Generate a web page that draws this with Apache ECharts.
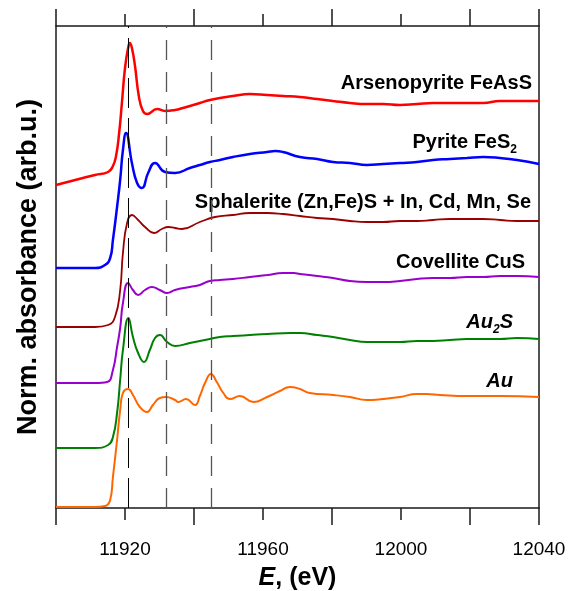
<!DOCTYPE html>
<html>
<head>
<meta charset="utf-8">
<script src="https://cdn.jsdelivr.net/npm/echarts@6.0.0/dist/echarts.min.js"></script>
<style>
  html, body { margin: 0; padding: 0; background: #fff; }
  #main { width: 569px; height: 591px; }
</style>
</head>
<body>
<div id="main"></div>
<script>
// spectra: [energy eV, normalised absorbance + offset]
const arsenopyrite = [
  [11900, 3.23], [11907.8, 3.30], [11911.3, 3.33], [11915.1, 3.36], [11916.5, 3.42],
  [11917.4, 3.52], [11918.3, 3.75], [11919.1, 4.05], [11920.0, 4.40], [11920.9, 4.60],
  [11921.4, 4.65], [11922.0, 4.60], [11922.9, 4.42], [11924.0, 4.12], [11925.2, 3.97],
  [11926.4, 3.94], [11929.3, 3.99], [11931.6, 3.97], [11934.5, 3.98], [11936.8, 4.00],
  [11941.7, 4.05], [11944.6, 4.08], [11947.5, 4.10], [11951.3, 4.12], [11956.2, 4.14],
  [11961.2, 4.13], [11965.8, 4.12], [11970.7, 4.11], [11975.7, 4.09], [11980.3, 4.07],
  [11985.2, 4.05], [11990.1, 4.04], [11994.8, 4.04], [11999.7, 4.03], [12004.6, 4.04],
  [12009.3, 4.05], [12014.2, 4.05], [12019.1, 4.05], [12023.8, 4.05], [12028.7, 4.07],
  [12033.6, 4.07], [12040, 4.07]
]
const pyrite = [
  [11900, 2.40], [11911.3, 2.40], [11914.2, 2.43], [11915.7, 2.50], [11916.5, 2.68],
  [11917.7, 3.01], [11918.6, 3.28], [11919.4, 3.58], [11920.3, 3.75], [11922.0, 3.45],
  [11923.5, 3.25], [11924.9, 3.20], [11926.7, 3.35], [11928.7, 3.45], [11931.6, 3.36],
  [11934.5, 3.35], [11938.8, 3.40], [11941.7, 3.43], [11944.6, 3.46], [11947.5, 3.48],
  [11951.3, 3.51], [11956.2, 3.54], [11961.2, 3.56], [11963.5, 3.57], [11965.8, 3.56],
  [11970.7, 3.51], [11975.7, 3.49], [11980.3, 3.46], [11985.2, 3.45], [11990.1, 3.43],
  [11994.8, 3.44], [11999.7, 3.45], [12004.6, 3.46], [12009.3, 3.48], [12014.2, 3.49],
  [12019.1, 3.50], [12023.8, 3.51], [12028.7, 3.50], [12033.6, 3.48], [12040, 3.44]
]
const sphalerite = [
  [11900, 1.81], [11911.3, 1.81], [11915.1, 1.83], [11917.1, 1.91], [11918.6, 2.18],
  [11919.4, 2.55], [11920.6, 2.85], [11922.0, 2.93], [11923.8, 2.88], [11925.8, 2.81],
  [11928.4, 2.75], [11930.7, 2.79], [11932.5, 2.81], [11934.5, 2.80], [11936.5, 2.79],
  [11941.7, 2.86], [11946.1, 2.91], [11951.3, 2.93], [11956.2, 2.95], [11961.2, 2.95],
  [11965.8, 2.94], [11970.7, 2.92], [11975.7, 2.90], [11980.3, 2.89], [11985.2, 2.87],
  [11990.1, 2.86], [11994.8, 2.86], [11999.7, 2.87], [12004.6, 2.87], [12009.3, 2.88],
  [12014.2, 2.89], [12023.8, 2.89], [12028.7, 2.88], [12033.6, 2.87], [12040, 2.87]
]
const covellite = [
  [11900, 1.25], [11911.3, 1.25], [11914.8, 1.26], [11916.5, 1.38], [11917.7, 1.61],
  [11918.6, 1.80], [11919.4, 2.05], [11920.9, 2.25], [11922.3, 2.18], [11923.8, 2.13],
  [11925.8, 2.18], [11927.8, 2.21], [11930.1, 2.18], [11932.2, 2.15], [11934.5, 2.18],
  [11938.8, 2.21], [11941.7, 2.23], [11944.6, 2.27], [11947.5, 2.28], [11951.3, 2.29],
  [11956.2, 2.31], [11961.2, 2.33], [11965.8, 2.35], [11969.0, 2.35], [11970.7, 2.34],
  [11975.7, 2.32], [11980.3, 2.30], [11985.2, 2.27], [11990.1, 2.26], [11994.8, 2.26],
  [11999.7, 2.27], [12004.6, 2.29], [12009.3, 2.30], [12014.2, 2.30], [12019.1, 2.31],
  [12023.8, 2.31], [12028.7, 2.32], [12033.6, 2.32], [12040, 2.31]
]
const au2s = [
  [11900, 0.60], [11911.3, 0.60], [11915.1, 0.63], [11916.5, 0.71], [11917.7, 0.95],
  [11918.6, 1.28], [11919.4, 1.58], [11921.0, 1.90], [11922.3, 1.71], [11923.8, 1.55],
  [11925.5, 1.46], [11927.2, 1.58], [11928.7, 1.70], [11930.1, 1.73], [11932.2, 1.66],
  [11934.5, 1.62], [11938.8, 1.65], [11941.7, 1.67], [11944.6, 1.69], [11947.5, 1.71],
  [11951.3, 1.72], [11956.2, 1.73], [11961.2, 1.74], [11968.0, 1.75], [11970.7, 1.75],
  [11975.7, 1.73], [11980.3, 1.71], [11985.2, 1.68], [11990.1, 1.66], [11994.8, 1.66],
  [11999.7, 1.66], [12004.6, 1.67], [12009.3, 1.67], [12014.2, 1.68], [12019.1, 1.69],
  [12023.8, 1.69], [12028.7, 1.69], [12033.6, 1.70], [12040, 1.69]
]
const au = [
  [11900, 0.01], [11911.3, 0.01], [11914.2, 0.02], [11915.7, 0.08], [11916.5, 0.31],
  [11917.7, 0.68], [11918.6, 0.98], [11919.4, 1.15], [11920.9, 1.19], [11922.3, 1.13],
  [11924.3, 1.01], [11926.4, 0.96], [11928.1, 1.03], [11930.1, 1.10], [11931.9, 1.11],
  [11934.5, 1.08], [11935.4, 1.06], [11937.7, 1.09], [11940.3, 1.03], [11941.7, 1.12],
  [11943.2, 1.25], [11944.9, 1.34], [11946.6, 1.26], [11948.5, 1.15], [11950.4, 1.09],
  [11953.3, 1.12], [11957.2, 1.06], [11961.2, 1.11], [11964.9, 1.17], [11967.8, 1.21],
  [11970.7, 1.19], [11973.6, 1.15], [11980.3, 1.13], [11985.2, 1.11], [11990.1, 1.08],
  [11994.8, 1.09], [11999.7, 1.11], [12004.6, 1.14], [12007.4, 1.14], [12011.3, 1.13],
  [12019.1, 1.12], [12028.7, 1.12], [12040, 1.11]
]

const tickLabels = [11920, 11960, 12000, 12040]
const blackGuide = [11921]
const grayGuides = [11932, 11945]

const names = [
  { text: 'Arsenopyrite FeAsS' },
  { text: 'Pyrite FeS', sub: '2' },
  { text: 'Sphalerite (Zn,Fe)S + In, Cd, Mn, Se' },
  { text: 'Covellite CuS' },
  { text: 'Au', sub: '2', tail: 'S', italic: true },
  { text: 'Au', italic: true },
]
const labelY = [82, 141, 201, 261, 321, 380]
const labelRight = [532, 517, 531, 525, 513, 513]

const chart = echarts.init(document.getElementById('main'))

const axisCol = '#1a1a1a'
const font = 'Liberation Sans, Arial, sans-serif'

function xAx(pos, interval, len, showLine, showLabel) {
  return {
    type: 'value', position: pos, min: 11900, max: 12040, interval,
    axisLine: { show: showLine, onZero: false, lineStyle: { color: axisCol, width: 1.5 } },
    axisTick: { show: true, inside: false, length: len, lineStyle: { color: axisCol, width: 1.5 } },
    axisLabel: {
      show: showLabel, margin: 32, fontSize: 19, color: '#000', fontFamily: font,
      formatter: v => tickLabels.indexOf(v) !== -1 ? String(v) : ''
    },
    splitLine: { show: false },
  }
}

function curve(name, data, color, width) {
  return {
    name, type: 'line', data, xAxisIndex: 0, yAxisIndex: 0,
    showSymbol: false, smooth: 0.5, z: 3,
    lineStyle: { color, width }, itemStyle: { color },
  }
}

const xBottom = xAx('bottom', 20, 12, true, true)
xBottom.name = '{e|E}{t|, (eV)}'
xBottom.nameLocation = 'middle'
xBottom.nameGap = 58
xBottom.nameTextStyle = {
  rich: {
    e: { fontSize: 25, fontWeight: 'bold', fontStyle: 'italic', fontFamily: font, color: '#000' },
    t: { fontSize: 25, fontWeight: 'bold', fontFamily: font, color: '#000' },
  }
}

const graphics = names.map((n, i) => {
  let str = '{m|' + n.text + '}'
  if (n.sub) str += '{s|' + n.sub + '}'
  if (n.tail) str += '{m|' + n.tail + '}'
  const st = n.italic ? 'italic' : 'normal'
  return {
    type: 'text', right: 569 - labelRight[i], top: labelY[i] - 9,
    style: {
      text: str, fill: '#000',
      rich: {
        m: { fontSize: 20, fontWeight: 'bold', fontStyle: st, fontFamily: font, fill: '#000' },
        s: { fontSize: 12, fontWeight: 'bold', fontStyle: st, fontFamily: font, fill: '#000', padding: [15, 0, 0, 0] },
      }
    }
  }
})

chart.setOption({
  animation: false,
  backgroundColor: '#fff',
  grid: { left: 56, right: 30, top: 26, bottom: 83, outerBoundsMode: 'none', containLabel: false },
  xAxis: [
    xBottom,
    xAx('bottom', 40, 17, false, false),
    xAx('top', 20, 12, true, false),
    xAx('top', 40, 17, false, false),
  ],
  yAxis: [
    {
      type: 'value', min: 0, max: 4.82, position: 'left',
      name: 'Norm. absorbance (arb.u.)', nameLocation: 'middle', nameGap: 14,
      nameTextStyle: { fontSize: 27, fontWeight: 'bold', fontFamily: font, color: '#000' },
      axisLine: { show: true, lineStyle: { color: axisCol, width: 1.5 } },
      axisTick: { show: false }, axisLabel: { show: false }, splitLine: { show: false },
    },
    {
      type: 'value', min: 0, max: 4.82, position: 'right',
      axisLine: { show: true, lineStyle: { color: axisCol, width: 1.5 } },
      axisTick: { show: false }, axisLabel: { show: false }, splitLine: { show: false },
    },
  ],
  graphic: graphics,
  series: [
    {
      type: 'line', data: [], z: 1, silent: true,
      markLine: {
        symbol: 'none', silent: true, label: { show: false },
        data: blackGuide.map(x => ({ xAxis: x, lineStyle: { color: '#000', width: 1, type: [30, 10] } }))
          .concat(grayGuides.map(x => ({ xAxis: x, lineStyle: { color: '#555', width: 1.3, type: [20, 12] } }))),
      },
    },
    curve('Arsenopyrite', arsenopyrite, '#ff0000', 2.5),
    curve('Pyrite', pyrite, '#0000ff', 2.5),
    curve('Sphalerite', sphalerite, '#990000', 1.8),
    curve('Covellite', covellite, '#9900cc', 2),
    curve('Au2S', au2s, '#008000', 2),
    curve('Au', au, '#ff6600', 2),
  ],
})
</script>
</body>
</html>
